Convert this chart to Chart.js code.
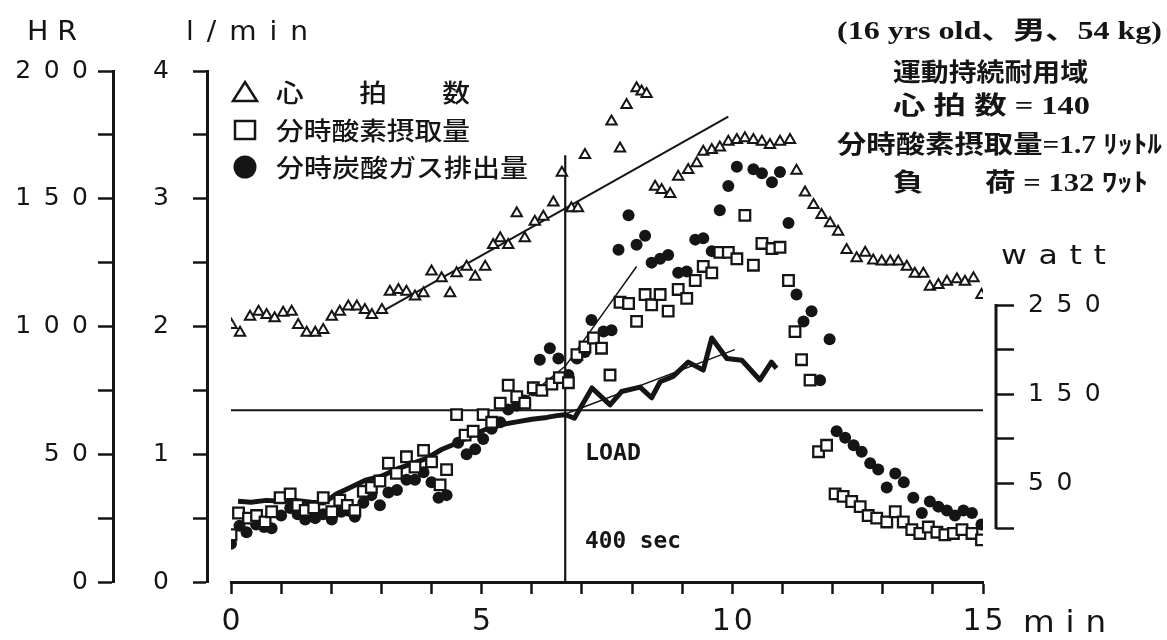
<!DOCTYPE html>
<html>
<head>
<meta charset="utf-8">
<script src="https://cdn.jsdelivr.net/npm/chart.js@4.4.0/dist/chart.umd.min.js"></script>
<style>
  html, body { margin: 0; padding: 0; background: #fff; }
</style>
</head>
<body>
<canvas id="myChart" width="1167" height="640"></canvas>
<script>
// readings, time in minutes
var hrTime = [0.01, 0.18, 0.38, 0.55, 0.71, 0.87, 1.04, 1.21, 1.34, 1.51, 1.68, 1.84, 2.01, 2.17, 2.34, 2.51, 2.67, 2.81, 3.01, 3.17,
  3.34, 3.50, 3.67, 3.84, 4.00, 4.20, 4.37, 4.50, 4.70, 4.87, 5.07, 5.23, 5.37, 5.53, 5.70, 5.86, 6.06, 6.23, 6.43, 6.60,
  6.79, 6.92, 7.06, 7.59, 7.76, 7.89, 8.09, 8.19, 8.29, 8.46, 8.59, 8.76, 8.92, 9.12, 9.29, 9.42, 9.59, 9.75, 9.92, 10.09,
  10.25, 10.42, 10.59, 10.75, 10.95, 11.15, 11.28, 11.45, 11.62, 11.78, 11.95, 12.11, 12.28, 12.48, 12.65, 12.81, 12.98, 13.15, 13.31, 13.48,
  13.64, 13.81, 13.94, 14.11, 14.28, 14.48, 14.64, 14.81, 14.97];
var hrBpm = [100.6, 97.6, 103.8, 105.8, 104.5, 103.2, 105.4, 105.8, 100.6, 97.6, 97.6, 98.6, 103.8, 105.8, 107.8, 107.8, 106.5, 104.5, 106.5, 113.6,
  114.3, 113.6, 111.7, 113.0, 121.5, 118.9, 113.0, 120.8, 123.4, 119.5, 123.4, 131.9, 134.5, 131.9, 144.3, 134.5, 141.0, 143.0, 148.5, 160.2,
  146.3, 146.3, 167.1, 180.2, 169.7, 186.7, 193.2, 192.0, 191.0, 154.7, 153.4, 151.9, 158.6, 161.3, 163.9, 168.4, 169.1, 170.1, 172.3, 173.0,
  173.7, 173.0, 172.3, 171.0, 172.3, 173.0, 161.0, 152.4, 147.6, 143.6, 140.4, 137.1, 129.9, 126.7, 128.9, 125.8, 125.4, 125.4, 125.4, 123.4,
  120.6, 120.6, 115.6, 116.2, 117.5, 118.5, 117.5, 118.9, 112.3];

var vo2Time = [0.00, 0.15, 0.35, 0.51, 0.68, 0.81, 0.98, 1.18, 1.33, 1.48, 1.65, 1.84, 2.01, 2.17, 2.32, 2.47, 2.64, 2.80, 2.97, 3.14,
  3.30, 3.50, 3.67, 3.84, 4.00, 4.17, 4.30, 4.50, 4.67, 4.83, 5.03, 5.20, 5.37, 5.53, 5.70, 5.86, 6.03, 6.20, 6.40, 6.55,
  6.73, 6.90, 7.06, 7.23, 7.39, 7.56, 7.76, 7.93, 8.09, 8.26, 8.39, 8.56, 8.72, 8.92, 9.09, 9.26, 9.42, 9.59, 9.75, 9.92,
  10.09, 10.25, 10.42, 10.59, 10.79, 10.95, 11.12, 11.25, 11.38, 11.55, 11.72, 11.88, 12.05, 12.21, 12.38, 12.55, 12.71, 12.88, 13.08, 13.25,
  13.41, 13.58, 13.74, 13.91, 14.08, 14.24, 14.41, 14.58, 14.78, 14.97];
var vo2Lmin = [0.37, 0.54, 0.50, 0.52, 0.47, 0.55, 0.66, 0.69, 0.60, 0.56, 0.58, 0.66, 0.55, 0.64, 0.60, 0.56, 0.71, 0.74, 0.79, 0.93,
  0.85, 0.98, 0.90, 1.03, 0.94, 0.76, 0.88, 1.31, 1.15, 1.18, 1.31, 1.25, 1.40, 1.54, 1.45, 1.40, 1.52, 1.50, 1.55, 1.60,
  1.56, 1.78, 1.84, 1.91, 1.83, 1.62, 2.19, 2.18, 2.04, 2.25, 2.17, 2.25, 2.12, 2.29, 2.22, 2.36, 2.47, 2.42, 2.58, 2.58,
  2.53, 2.87, 2.48, 2.65, 2.61, 2.62, 2.36, 1.96, 1.74, 1.58, 1.02, 1.07, 0.69, 0.67, 0.63, 0.59, 0.52, 0.50, 0.47, 0.55,
  0.47, 0.41, 0.38, 0.43, 0.39, 0.37, 0.38, 0.41, 0.38, 0.33];

var vco2Time = [0.00, 0.17, 0.31, 0.50, 0.66, 0.81, 1.00, 1.18, 1.33, 1.48, 1.68, 1.84, 2.01, 2.20, 2.33, 2.47, 2.64, 2.80, 2.97, 3.14,
  3.31, 3.50, 3.67, 3.84, 4.00, 4.14, 4.30, 4.53, 4.70, 4.87, 5.03, 5.20, 5.37, 5.53, 5.70, 5.86, 6.03, 6.16, 6.36, 6.53,
  6.73, 6.90, 7.06, 7.19, 7.43, 7.59, 7.73, 7.93, 8.09, 8.26, 8.39, 8.56, 8.72, 8.92, 9.09, 9.26, 9.42, 9.59, 9.75, 9.92,
  10.09, 10.42, 10.59, 10.79, 10.95, 11.12, 11.28, 11.42, 11.58, 11.75, 11.94, 12.08, 12.25, 12.42, 12.58, 12.75, 12.91, 13.08, 13.25, 13.42,
  13.61, 13.78, 13.94, 14.11, 14.28, 14.44, 14.61, 14.78, 14.97];
var vco2Lmin = [0.30, 0.44, 0.39, 0.45, 0.43, 0.42, 0.52, 0.58, 0.53, 0.49, 0.50, 0.53, 0.49, 0.55, 0.56, 0.51, 0.62, 0.68, 0.60, 0.70,
  0.72, 0.80, 0.80, 0.86, 0.78, 0.66, 0.68, 1.09, 1.00, 1.04, 1.12, 1.20, 1.25, 1.35, 1.38, 1.42, 1.50, 1.74, 1.83, 1.75,
  1.62, 1.75, 1.80, 2.05, 1.96, 1.97, 2.60, 2.87, 2.64, 2.71, 2.50, 2.53, 2.56, 2.42, 2.43, 2.68, 2.69, 2.59, 2.91, 3.10,
  3.25, 3.23, 3.20, 3.13, 3.21, 2.81, 2.25, 2.04, 2.12, 1.58, 1.90, 1.18, 1.13, 1.07, 1.02, 0.93, 0.88, 0.74, 0.85, 0.78,
  0.66, 0.54, 0.63, 0.59, 0.56, 0.52, 0.56, 0.54, 0.45];

var loadTime = [0.14, 0.4, 0.7, 1.0, 1.3, 1.6, 1.85, 2.1, 2.4, 2.7, 3.0, 3.3, 3.6, 3.9, 4.2, 4.5, 4.8, 5.1, 5.4, 5.7,
  6.0, 6.3, 6.5, 6.67, 6.85, 7.2, 7.56, 7.79, 8.16, 8.39, 8.56, 8.82, 9.12, 9.42, 9.59, 9.89, 10.19, 10.55, 10.78, 10.88];
var loadWatt = [30, 29, 31, 30, 31, 29, 28, 38, 46, 54, 58, 66, 72, 78, 88, 95, 104, 111, 116, 119,
  122, 124, 126, 127, 123, 157, 138, 153, 158, 146, 164, 170, 186, 177, 213, 190, 188, 166, 186, 179];

// fitted lines and markers drawn on the original
var hrFitTime = [3.07, 9.92];
var hrFitBpm = [106.5, 182.1];
var vo2FitTime = [5.6, 6.67, 8.09];
var vo2FitLmin = [1.35, 1.69, 2.47];
var loadFitTime = [6.63, 10.05];
var loadFitWatt = [127, 200];
var atTime = 400 / 60;
var atTop = 3.34;
var loadLevel = 132;

var xLabelTicks = [0, 5, 10, 15];
var hrLabelTicks = [0, 50, 100, 150, 200];
var lminLabelTicks = [0, 1, 2, 3, 4];
var wattTicks = [0, 50, 100, 150, 200, 250];
var wattLabelTicks = [50, 150, 250];

var legendLabels = ['心　　拍　　数', '分時酸素摂取量', '分時炭酸ガス排出量'];
var infoLines = ['(16 yrs old、男、54 kg)', '運動持続耐用域', '心 拍 数 = 140', '分時酸素摂取量=1.7 ﾘｯﾄﾙ', '負　　荷 = 132 ﾜｯﾄ'];

var ink = '#151515';

function pts(xs, ys) {
  return xs.map(function (x, i) { return { x: x, y: ys[i] }; });
}
function spaced(list, sep) {
  return function (v) {
    return list.indexOf(v) >= 0 ? String(v).split('').join(sep) : '';
  };
}

function putText(ctx, str, x, y, font, width, spacing) {
  ctx.save();
  ctx.font = font;
  ctx.fillStyle = ink;
  ctx.textBaseline = 'middle';
  ctx.textAlign = 'left';
  if (spacing) ctx.letterSpacing = spacing + 'px';
  var w = ctx.measureText(str).width - (spacing || 0);
  ctx.translate(x, y);
  if (width) ctx.scale(width / w, 1);
  ctx.fillText(str, 0, 0);
  ctx.restore();
}

function legendMark(ctx, kind, x, y) {
  ctx.save();
  ctx.lineWidth = 2.5;
  ctx.strokeStyle = ink;
  ctx.fillStyle = ink;
  ctx.beginPath();
  if (kind === 0) {
    ctx.moveTo(x, y - 10); ctx.lineTo(x + 12, y + 9); ctx.lineTo(x - 12, y + 9); ctx.closePath(); ctx.stroke();
  } else if (kind === 1) {
    ctx.strokeRect(x - 10, y - 9, 20, 18);
  } else {
    ctx.arc(x, y, 11.5, 0, Math.PI * 2); ctx.fill();
  }
  ctx.restore();
}

var decor = {
  id: 'decor',
  afterDraw: function (chart) {
    var ctx = chart.ctx;
    var w = chart.scales.yW;
    // watt axis spine only spans 0-250
    ctx.save();
    ctx.strokeStyle = ink;
    ctx.lineWidth = 3;
    ctx.beginPath();
    ctx.moveTo(w.left, w.getPixelForValue(0) + 1);
    ctx.lineTo(w.left, w.getPixelForValue(250) - 1);
    ctx.stroke();
    ctx.restore();

    var sans = '"DejaVu Sans", sans-serif';
    putText(ctx, 'HR', 27, 33, '26px ' + sans, 50, 8);
    putText(ctx, 'l/min', 186, 33, '26px ' + sans, 122, 12);
    putText(ctx, 'watt', 1001, 257, '27px ' + sans, 105, 10);
    putText(ctx, 'min', 1023, 624, '30px ' + sans, 83, 10);
    putText(ctx, 'LOAD', 585, 454, 'bold 23px "DejaVu Sans Mono"', 56);
    putText(ctx, '400 sec', 585, 542, 'bold 23px "DejaVu Sans Mono"', 96);

    var jp = 'bold 25px "Liberation Serif", "Noto Sans CJK JP"';
    putText(ctx, infoLines[0], 837, 33, jp, 325);
    putText(ctx, infoLines[1], 893, 71, 'bold 25px "Noto Sans CJK JP"', 195);
    putText(ctx, infoLines[2], 893, 108, jp, 197);
    putText(ctx, infoLines[3], 837, 147, jp, 325);
    putText(ctx, infoLines[4], 893, 185, jp, 255);

    var rows = [92, 130, 167];
    var widths = [194, 194, 252];
    legendLabels.forEach(function (lab, i) {
      legendMark(ctx, i, 245, rows[i]);
      putText(ctx, lab, 276, rows[i], '500 25px "Noto Sans CJK JP"', widths[i]);
    });
  }
};

var tickFont = { family: 'DejaVu Sans', size: 25 };

var ctx = document.getElementById('myChart').getContext('2d');
var chart = new Chart(ctx, {
  type: 'scatter',
  data: {
    datasets: [
      {
        label: legendLabels[0], data: pts(hrTime, hrBpm), yAxisID: 'yHR', order: 1,
        pointStyle: 'triangle', pointRadius: 6, pointBorderWidth: 2, pointBorderColor: ink, pointBackgroundColor: '#fff'
      },
      {
        label: legendLabels[1], data: pts(vo2Time, vo2Lmin), yAxisID: 'yL', order: 2,
        pointStyle: 'rect', pointRadius: 7.5, pointBorderWidth: 2.3, pointBorderColor: ink, pointBackgroundColor: '#fff'
      },
      {
        label: legendLabels[2], data: pts(vco2Time, vco2Lmin), yAxisID: 'yL', order: 3,
        pointStyle: 'circle', pointRadius: 6, pointBorderWidth: 0, pointBackgroundColor: ink
      },
      {
        label: 'load', data: pts(loadTime, loadWatt), yAxisID: 'yW', order: 4,
        showLine: true, borderColor: ink, borderWidth: 5, pointRadius: 0, borderJoinStyle: 'round'
      },
      {
        label: 'hr fit', data: pts(hrFitTime, hrFitBpm), yAxisID: 'yHR', order: 5,
        showLine: true, borderColor: ink, borderWidth: 2, pointRadius: 0
      },
      {
        label: 'vo2 fit', data: pts(vo2FitTime, vo2FitLmin), yAxisID: 'yL', order: 5,
        showLine: true, borderColor: ink, borderWidth: 1.5, pointRadius: 0
      },
      {
        label: 'load fit', data: pts(loadFitTime, loadFitWatt), yAxisID: 'yW', order: 5,
        showLine: true, borderColor: ink, borderWidth: 1.5, pointRadius: 0
      },
      {
        label: 'load level', data: pts([0, 15], [loadLevel, loadLevel]), yAxisID: 'yW', order: 6,
        showLine: true, borderColor: ink, borderWidth: 2.2, pointRadius: 0
      },
      {
        label: '400 sec', data: pts([atTime, atTime], [0, atTop]), yAxisID: 'yL', order: 6,
        showLine: true, borderColor: ink, borderWidth: 2.2, pointRadius: 0
      }
    ]
  },
  options: {
    responsive: false,
    devicePixelRatio: 1,
    animation: false,
    layout: { padding: { top: 71, left: 0, right: 0, bottom: 0 } },
    plugins: { legend: { display: false }, tooltip: { enabled: false } },
    scales: {
      x: {
        type: 'linear', position: 'bottom', min: 0, max: 15,
        afterFit: function (s) { s.height = 58; },
        border: { display: true, color: ink, width: 3 },
        grid: { drawOnChartArea: false, drawTicks: true, tickLength: 12, tickColor: ink, tickWidth: 2.5 },
        ticks: { stepSize: 1, autoSkip: false, maxRotation: 0, padding: 10, color: ink,
          font: { family: 'DejaVu Sans', size: 30 }, callback: spaced(xLabelTicks, '\u200a') }
      },
      yS: {
        type: 'linear', position: 'left', weight: 0, min: 0, max: 1,
        afterFit: function (s) { s.width = 24; },
        border: { display: false }, grid: { display: false }, ticks: { display: false }
      },
      yL: {
        type: 'linear', position: 'left', weight: 1, min: 0, max: 4,
        afterFit: function (s) { s.width = 94; },
        border: { display: true, color: ink, width: 3 },
        grid: { drawOnChartArea: false, drawTicks: true, tickLength: 14, tickColor: ink, tickWidth: 2.5 },
        ticks: { stepSize: 0.5, autoSkip: false, padding: 24, color: ink, font: tickFont, callback: spaced(lminLabelTicks, '\u2002') }
      },
      yHR: {
        type: 'linear', position: 'left', weight: 2, min: 0, max: 200,
        afterFit: function (s) { s.width = 113; },
        border: { display: true, color: ink, width: 3 },
        grid: { drawOnChartArea: false, drawTicks: true, tickLength: 15, tickColor: ink, tickWidth: 2.5 },
        ticks: { stepSize: 25, autoSkip: false, padding: 10, color: ink, font: tickFont, callback: spaced(hrLabelTicks, '\u2002') }
      },
      yS2: {
        type: 'linear', position: 'right', weight: 0, min: 0, max: 1,
        afterFit: function (s) { s.width = 13; },
        border: { display: false }, grid: { display: false }, ticks: { display: false }
      },
      yW: {
        type: 'linear', position: 'right', weight: 1, min: -60.5, max: 512.3,
        afterFit: function (s) { s.width = 171; },
        afterBuildTicks: function (s) { s.ticks = wattTicks.map(function (v) { return { value: v }; }); },
        border: { display: false },
        grid: { drawOnChartArea: false, drawTicks: true, tickLength: 18, tickColor: ink, tickWidth: 2.5 },
        ticks: { autoSkip: false, padding: 14, color: ink, font: tickFont, callback: spaced(wattLabelTicks, '\u2002') }
      }
    }
  },
  plugins: [decor]
});
</script>
</body>
</html>
